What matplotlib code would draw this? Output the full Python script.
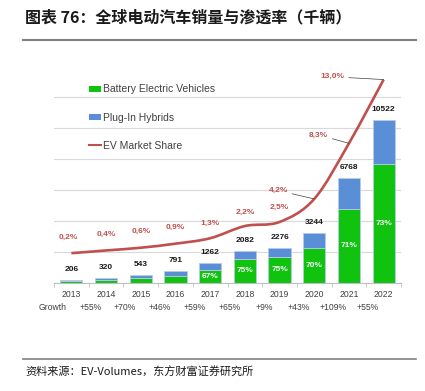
import matplotlib
matplotlib.use('Agg')
import matplotlib.pyplot as plt
import numpy as np
from matplotlib.patches import Patch, PathPatch
from matplotlib.lines import Line2D
from matplotlib.path import Path
from matplotlib.transforms import blended_transform_factory

plt.rcParams['font.family'] = ['Liberation Sans', 'DejaVu Sans']

years = ['2013', '2014', '2015', '2016', '2017', '2018', '2019', '2020', '2021', '2022']
totals = [206, 320, 543, 791, 1262, 2082, 2276, 3244, 6768, 10522]
bev_share = [55, 55, 65, 61, 67, 75, 75, 70, 71, 73]
bev_labels = ['', '', '', '', '67%', '75%', '75%', '70%', '71%', '73%']
ev_share = [0.2, 0.4, 0.6, 0.9, 1.3, 2.2, 2.5, 4.2, 8.3, 13.0]
growth = ['+55%', '+70%', '+46%', '+59%', '+65%', '+9%', '+43%', '+109%', '+55%']

GREEN = '#0fc30f'
BLUE = '#5a8fd8'
RED = '#c0504d'
GREY = '#404040'

bev = [t * s / 100 for t, s in zip(totals, bev_share)]
phev = [t - b for t, b in zip(totals, bev)]
x = np.arange(len(years))

fig = plt.figure(figsize=(4.25, 3.91), dpi=100)
ax = fig.add_axes([54 / 425, 108 / 391, 347 / 425, 217 / 391])

ax.bar(x, bev, width=0.64, color=GREEN, edgecolor='#b7cbe6', linewidth=0.6, zorder=2)
ax.bar(x, phev, bottom=bev, width=0.64, color=BLUE, edgecolor='#b7cbe6', linewidth=0.6, zorder=2)

ax.set_xlim(-0.5, len(years) - 0.5)
ax.set_ylim(0, 14000)
ax.set_yticks(np.arange(0, 12001, 2000))
ax.yaxis.grid(True, color='#d9d9d9', linewidth=0.8)
ax.set_axisbelow(True)
for s in ['top', 'right', 'left']:
    ax.spines[s].set_visible(False)
ax.spines['bottom'].set_color('#bfbfbf')
ax.set_xticks(x)
ax.set_xticklabels(years, fontsize=6.2, color=GREY)
ax.set_xticks(np.arange(-0.5, len(years), 1), minor=True)

for i, t in enumerate(totals):
    ax.annotate(str(t), (i, t), xytext=(0, 5), textcoords='offset points',
                ha='center', va='bottom', fontsize=6, fontweight='bold', color='#1a1a1a')
    if bev_labels[i]:
        ax.text(i, bev[i] / 2, bev_labels[i], ha='center', va='center',
                fontsize=6, fontweight='bold', color='white')

trans = blended_transform_factory(ax.transData, ax.transAxes)
ax.text(-0.55, -0.115, 'Growth', transform=trans, ha='center', va='center', fontsize=6.2, color=GREY)
for i, g in enumerate(growth):
    ax.text(i + 0.55, -0.115, g, transform=trans, ha='center', va='center', fontsize=6.2, color=GREY)

# smooth share line (Catmull-Rom rendered as bezier)
ax2 = ax.twinx()
ax2.set_ylim(-2, 14)
ax2.axis('off')
ax.tick_params(axis='y', left=False, right=False, labelleft=False, labelright=False)
ax.tick_params(axis='x', which='major', length=0, pad=5)
ax.tick_params(axis='x', which='minor', length=3, color='#bfbfbf')

pts = np.column_stack([x, ev_share]).astype(float)
ext = np.vstack([pts[0], pts, pts[-1]])
verts = [tuple(pts[0])]
codes = [Path.MOVETO]
for i in range(len(pts) - 1):
    p0, p1, p2, p3 = ext[i], ext[i + 1], ext[i + 2], ext[i + 3]
    c1 = p1 + (p2 - p0) / 6
    c2 = p2 - (p3 - p1) / 6
    verts += [tuple(c1), tuple(c2), tuple(p2)]
    codes += [Path.CURVE4] * 3
ax2.add_patch(PathPatch(Path(verts, codes), facecolor='none', edgecolor=RED, linewidth=1.9, zorder=3))

offsets = {0: (-2, 9), 1: (0, 9), 2: (0, 9), 3: (0, 9), 4: (0, 8), 5: (0, 7), 6: (0, 8)}
leaders = {7: (-19, 6), 8: (-15, 6), 9: (-28, 2)}
for i, v in enumerate(ev_share):
    lab = ('%.1f%%' % v).replace('.', ',')
    if i in offsets:
        ax2.annotate(lab, (i, v), xytext=offsets[i], textcoords='offset points',
                     ha='center', va='bottom', fontsize=6, fontweight='bold', color=RED)
    else:
        ax2.annotate(lab, (i, v), xytext=leaders[i], textcoords='offset points',
                     ha='right', va='center', fontsize=6, fontweight='bold', color=RED,
                     arrowprops=dict(arrowstyle='-', color=GREY, linewidth=0.5,
                                     shrinkA=1, shrinkB=0))

handles = [Patch(facecolor=GREEN, edgecolor='none'),
           Patch(facecolor=BLUE, edgecolor='none'),
           Line2D([0], [0], color=RED, linewidth=1.5)]
fig.legend(handles, ['Battery Electric Vehicles', 'Plug-In Hybrids', 'EV Market Share'],
           loc='upper left', bbox_to_anchor=(80 / 425, 1 - 75 / 391), frameon=False,
           fontsize=7.5, labelcolor=GREY, labelspacing=1.75, handlelength=1.1,
           handleheight=0.5, handletextpad=0.2)

cjk = ['Noto Sans CJK SC', 'DejaVu Sans']
fig.text(25 / 425, 1 - 17 / 391, '图表 76：全球电动汽车销量与渗透率（千辆）', family=cjk,
         fontsize=11.5, fontweight='bold', va='center', ha='left', color='#1a1a1a')
fig.add_artist(Line2D([23 / 425, 416 / 425], [1 - 40 / 391] * 2, color='#808080', linewidth=1.5))
fig.add_artist(Line2D([23 / 425, 416 / 425], [1 - 359 / 391] * 2, color='#808080', linewidth=1.2))
fig.text(25 / 425, 1 - 372 / 391, '资料来源：EV-Volumes，东方财富证券研究所', family=cjk,
         fontsize=8, va='center', ha='left', color='#1a1a1a')

fig.savefig('out.png', dpi=100)
